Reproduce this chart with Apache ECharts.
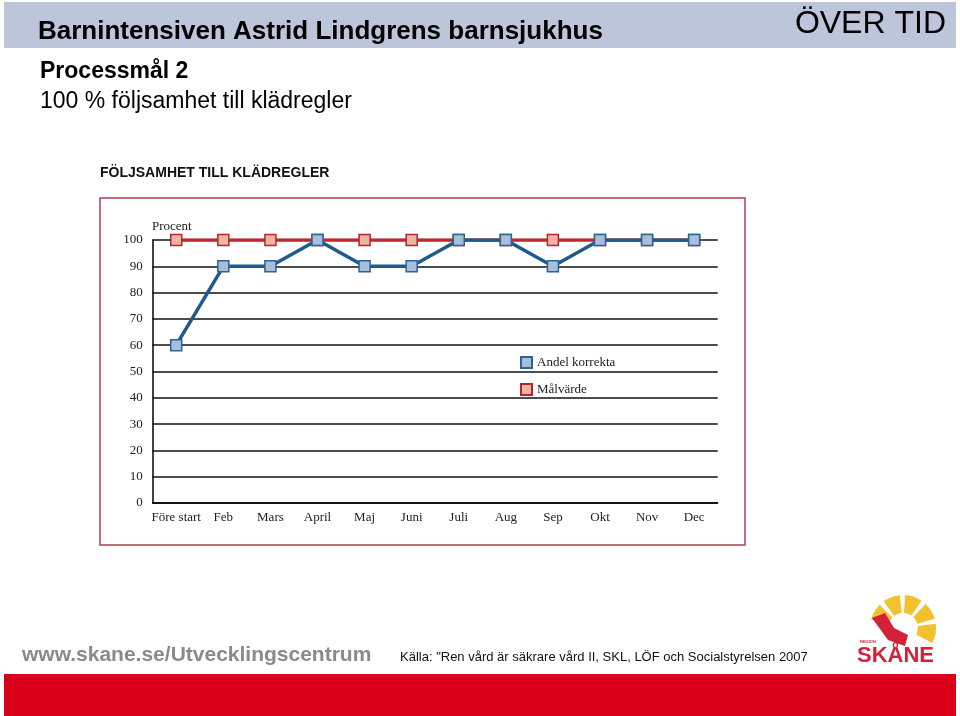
<!DOCTYPE html>
<html>
<head>
<meta charset="utf-8">
<script src="https://cdn.jsdelivr.net/npm/echarts@6/dist/echarts.min.js"></script>
<style>html,body{margin:0;padding:0;background:#fff;}#c{width:960px;height:716px;}</style>
</head>
<body>
<div id="c"></div>
<script>
var categories = ['Före start','Feb','Mars','April','Maj','Juni','Juli','Aug','Sep','Okt','Nov','Dec'];
var andelKorrekta = [60,90,90,100,90,90,100,100,90,100,100,100];
var malvarde = [100,100,100,100,100,100,100,100,100,100,100,100];
var yTicks = {min:0, max:100, interval:10};

var chart = echarts.init(document.getElementById('c'));
var serif = '"Liberation Serif", "DejaVu Serif", serif';
var sans = 'Arial, "Liberation Sans", sans-serif';

chart.setOption({
  animation:false,
  backgroundColor:'#fff',
  grid:{left:152.7, right:242.3, top:240, bottom:213},
  legend:{
    orient:'vertical', left:515, top:351, itemWidth:11, itemHeight:11, itemGap:14,
    icon:'rect',
    data:['Andel korrekta','Målvärde'],
    textStyle:{fontFamily:serif, fontSize:13, color:'#222'}
  },
  xAxis:{
    type:'category', data:categories, boundaryGap:true,
    axisLine:{show:true, lineStyle:{color:'#000', width:1.5}},
    axisTick:{show:false},
    axisLabel:{interval:0, fontFamily:serif, fontSize:13, color:'#222', margin:8}
  },
  yAxis:{
    type:'value', min:yTicks.min, max:yTicks.max, interval:yTicks.interval,
    axisLine:{show:true, lineStyle:{color:'#000', width:1.5}},
    axisTick:{show:false},
    splitLine:{show:true, lineStyle:{color:'#111', width:1.5}},
    axisLabel:{fontFamily:serif, fontSize:13, color:'#222', margin:10}
  },
  series:[
    {name:'Målvärde', type:'line', data:malvarde, symbol:'rect', symbolSize:11,
     lineStyle:{color:'#c0262d', width:3.5},
     itemStyle:{color:'#f0b4a6', borderColor:'#b3262d', borderWidth:1.5}, z:3},
    {name:'Andel korrekta', type:'line', data:andelKorrekta, symbol:'rect', symbolSize:11,
     lineStyle:{color:'#1f5a8c', width:3.5},
     itemStyle:{color:'#a8bedd', borderColor:'#2a6596', borderWidth:1.5}, z:4}
  ],
  graphic:[
    {type:'rect', shape:{x:4, y:2, width:952, height:46}, style:{fill:'#bcc5d9'}, z:-1},
    {type:'text', left:38, top:19, style:{text:'Barnintensiven Astrid Lindgrens barnsjukhus', font:'bold 26px '+sans, fill:'#000'}},
    {type:'text', right:14, top:8, style:{text:'ÖVER TID', font:'32px '+sans, fill:'#000'}},
    {type:'text', left:40, top:60, style:{text:'Processmål 2', font:'bold 23px '+sans, fill:'#000'}},
    {type:'text', left:40, top:90, style:{text:'100 % följsamhet till klädregler', font:'23px '+sans, fill:'#000'}},
    {type:'text', left:100, top:166, style:{text:'FÖLJSAMHET TILL KLÄDREGLER', font:'bold 14px '+sans, fill:'#111'}},
    {type:'rect', shape:{x:100, y:198, width:645, height:347}, style:{fill:'none', stroke:'#b04050', lineWidth:1.5}},
    {type:'text', left:152, top:220, style:{text:'Procent', font:'13px '+serif, fill:'#222'}},
    {type:'text', left:22, top:645, style:{text:'www.skane.se/Utvecklingscentrum', font:'bold 21px '+sans, fill:'#8a8a8a'}},
    {type:'text', left:400, top:651, style:{text:'Källa: "Ren vård är säkrare vård II, SKL, LÖF och Socialstyrelsen 2007', font:'13px '+sans, fill:'#111'}},
    {type:'rect', shape:{x:4, y:674, width:952, height:42}, style:{fill:'#da0019'}},
    // logo approximation
    {type:'sector', shape:{cx:903, cy:628, r0:15, r:33, startAngle:Math.PI*1.08, endAngle:Math.PI*1.25}, style:{fill:'#f2c12e'}},
    {type:'sector', shape:{cx:903, cy:628, r0:15, r:33, startAngle:Math.PI*1.30, endAngle:Math.PI*1.47}, style:{fill:'#f2c12e'}},
    {type:'sector', shape:{cx:903, cy:628, r0:15, r:33, startAngle:Math.PI*1.52, endAngle:Math.PI*1.69}, style:{fill:'#f2c12e'}},
    {type:'sector', shape:{cx:903, cy:628, r0:15, r:33, startAngle:Math.PI*1.74, endAngle:Math.PI*1.91}, style:{fill:'#f2c12e'}},
    {type:'sector', shape:{cx:903, cy:628, r0:15, r:33, startAngle:Math.PI*1.96, endAngle:Math.PI*2.15}, style:{fill:'#f2c12e'}},
    {type:'polygon', shape:{points:[[872,618],[885,613],[894,628],[908,635],[905,646],[888,640]]}, style:{fill:'#d4213a'}},
    {type:'text', left:860, top:640, style:{text:'REGION', font:'bold 4px '+sans, fill:'#d4213a'}},
    {type:'text', left:857, top:645, style:{text:'SKÅNE', font:'bold 22px '+sans, fill:'#d4213a'}}
  ]
});
</script>
</body>
</html>
